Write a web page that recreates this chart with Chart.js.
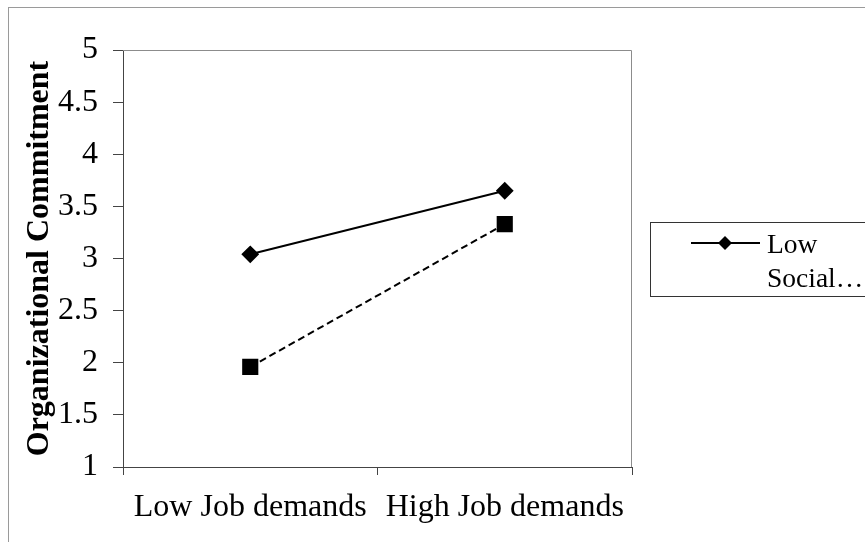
<!DOCTYPE html>
<html>
<head>
<meta charset="utf-8">
<script src="https://cdn.jsdelivr.net/npm/chart.js@4"></script>
<style>
  html, body { margin: 0; padding: 0; background: #fff; }
  #wrap { position: relative; width: 865px; height: 542px; overflow: hidden; }
  #frame { position: absolute; left: 8px; top: 7px; width: 900px; height: 600px; border: 1px solid #9a9a9a; box-sizing: border-box; }
  canvas { position: absolute; left: 0; top: 0; }
</style>
</head>
<body>
<div id="wrap">
  <div id="frame"></div>
  <canvas id="chart" width="865" height="542"></canvas>
</div>
<script>
const categories = ['Low Job demands', 'High Job demands']
const lowSocial = [3.04, 3.65]
const highSocial = [1.96, 3.33]
const seriesNames = ['Low Social Support', 'High Social Support']
const yTicks = [1, 1.5, 2, 2.5, 3, 3.5, 4, 4.5, 5]

const serif = '"Liberation Serif", "Times New Roman", serif'

// frame around plot area + the clipped legend box on the right
const plotFrame = {
    id: 'plotFrame',
    beforeDatasetsDraw(chart) {
        const {ctx, chartArea: a} = chart
        ctx.save()
        ctx.strokeStyle = '#8c8c8c'
        ctx.lineWidth = 1
        ctx.beginPath()
        ctx.moveTo(a.left, a.top + 0.5)
        ctx.lineTo(a.right - 0.5, a.top + 0.5)
        ctx.lineTo(a.right - 0.5, a.bottom)
        ctx.stroke()
        ctx.restore()
    },
    afterDraw(chart) {
        const ctx = chart.ctx
        ctx.save()
        ctx.strokeStyle = '#333'
        ctx.lineWidth = 1
        ctx.strokeRect(650.5, 222.5, 240, 74)
        ctx.strokeStyle = '#000'
        ctx.lineWidth = 2
        ctx.beginPath()
        ctx.moveTo(691, 243)
        ctx.lineTo(760, 243)
        ctx.stroke()
        ctx.fillStyle = '#000'
        ctx.beginPath()
        ctx.moveTo(725, 236)
        ctx.lineTo(732, 243)
        ctx.lineTo(725, 250)
        ctx.lineTo(718, 243)
        ctx.closePath()
        ctx.fill()
        ctx.font = '27.5px ' + serif
        ctx.textBaseline = 'alphabetic'
        ctx.fillText('Low', 767, 253)
        ctx.fillText('Social…', 767, 287)
        ctx.restore()
    }
}

new Chart('chart', {
    type: 'line',
    data: {
        labels: categories,
        datasets: [{
            label: seriesNames[0],
            data: lowSocial,
            borderColor: '#000',
            backgroundColor: '#000',
            borderWidth: 2,
            pointStyle: 'rectRot',
            pointRadius: 7.5,
            pointHoverRadius: 7.5,
            tension: 0
        }, {
            label: seriesNames[1],
            data: highSocial,
            borderColor: '#000',
            backgroundColor: '#000',
            borderWidth: 2,
            borderDash: [7, 4],
            pointStyle: 'rect',
            pointRadius: 10,
            pointHoverRadius: 10,
            tension: 0
        }]
    },
    options: {
        responsive: false,
        animation: false,
        layout: {padding: {top: 50, right: 233, left: 0, bottom: 0}},
        plugins: {legend: {display: false}, tooltip: {enabled: false}},
        scales: {
            x: {
                offset: true,
                grid: {
                    offset: true,
                    drawOnChartArea: false,
                    drawTicks: true,
                    tickLength: 8,
                    color: '#444'
                },
                border: {color: '#444'},
                ticks: {color: '#000', font: {family: serif, size: 32}, padding: 13, maxRotation: 0, autoSkip: false},
                afterFit(scale) { scale.height = 75 }
            },
            y: {
                min: 1,
                max: 5,
                afterBuildTicks(scale) { scale.ticks = yTicks.map(v => ({value: v})) },
                grid: {drawOnChartArea: false, tickLength: 10, color: '#444'},
                border: {color: '#444'},
                ticks: {
                    color: '#000',
                    font: {family: serif, size: 32},
                    padding: 15,
                    callback: v => String(v)
                },
                title: {
                    display: true,
                    text: 'Organizational Commitment',
                    color: '#000',
                    font: {family: serif, size: 32, weight: 'bold'},
                    padding: {top: 21, bottom: 0}
                },
                afterFit(scale) { scale.width = 123 }
            }
        }
    },
    plugins: [plotFrame]
})
</script>
</body>
</html>
